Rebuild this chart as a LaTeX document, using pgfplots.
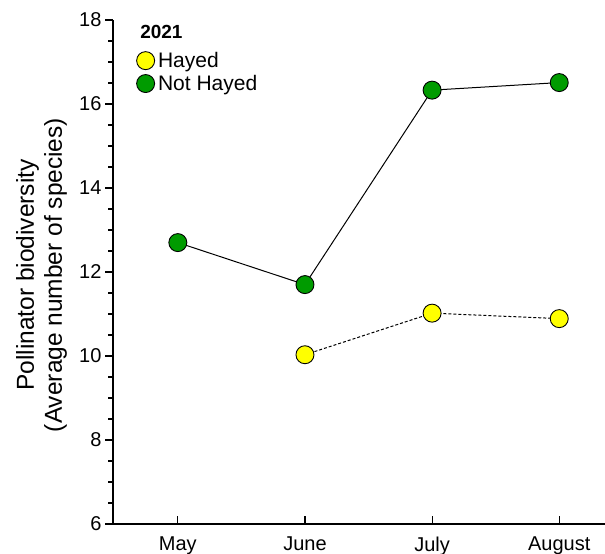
\documentclass[border=0pt]{standalone}
\usepackage{pgfplots}
\pgfplotsset{compat=1.18}
\usepackage{fontspec}
\setmainfont{Liberation Sans}
\definecolor{hgreen}{RGB}{0,155,0}
\definecolor{hyellow}{RGB}{255,255,0}
\begin{document}
\begin{tikzpicture}
\path[use as bounding box] (-113bp,-30bp) rectangle (492bp,524bp);
\begin{axis}[
  at={(0,0)}, anchor=south west,
  scale only axis, width=492bp, height=504bp,
  xmin=-0.51, xmax=3.36, ymin=6, ymax=18,
  axis x line*=bottom, axis y line*=left,
  xtick pos=left, ytick pos=left,
  axis line style={-, line width=1.1bp},
  tick align=outside,
  major tick length=8bp,
  xtick={0,1,2,3}, xticklabels={May,June,July,August},
  ytick={6,8,...,18},
  ytick style={draw=none},
  xtick style={black, line width=1.2bp, yshift=8bp},
  /pgf/number format/assume math mode=true,
  tick label style={font=\fontsize{20bp}{24bp}\selectfont},
  x tick label style={yshift=-1bp},
  ylabel={Pollinator biodiversity\\(Average number of species)},
  ylabel style={at={(axis description cs:-0.145,0.494)}, anchor=center, align=center, font=\fontsize{24.5bp}{28bp}\selectfont},
  clip=false,
  legend style={at={(axis description cs:0,1)}, anchor=north west, xshift=20bp, yshift=-29bp, draw=none, fill=none,
    font=\fontsize{21bp}{24bp}\selectfont, row sep=4bp, column sep=2bp, nodes={inner sep=1bp}},
  legend cell align=left,
]
% y axis tick marks (major and minor)
\pgfplotsinvokeforeach{6,8,10,12,14,16,18}{
  \draw[black, line width=1.3bp] (axis cs:-0.51,#1) -- ++(-8bp,0bp);
}
\pgfplotsinvokeforeach{6.5,7,7.5,8.5,9,9.5,10.5,11,11.5,12.5,13,13.5,14.5,15,15.5,16.5,17,17.5}{
  \draw[black, line width=1.1bp] (axis cs:-0.51,#1) -- ++(-5bp,0bp);
}
\addplot[forget plot, black, line width=1bp, mark=*, mark size=9bp,
  mark options={solid, fill=hgreen, draw=black, line width=0.9bp}]
  coordinates {(0,12.70) (1,11.70) (2,16.33) (3,16.51)};
\addplot[forget plot, black, line width=1bp, dash pattern=on 3bp off 2bp, mark=*, mark size=9bp,
  mark options={solid, fill=hyellow, draw=black, line width=0.9bp}]
  coordinates {(1,10.03) (2,11.02) (3,10.89)};
\addlegendimage{legend image code/.code={\draw[black, fill=hyellow, line width=0.9bp] (0bp,0bp) circle (9bp);}}
\addlegendentry{Hayed}
\addlegendimage{legend image code/.code={\draw[black, fill=hgreen, line width=0.9bp] (0bp,0bp) circle (9bp);}}
\addlegendentry{Not Hayed}
\node[anchor=west, font=\bfseries\fontsize{19bp}{22bp}\selectfont, inner sep=0pt] at (axis description cs:0.055,0.976) {2021};
\end{axis}
\end{tikzpicture}
\end{document}
